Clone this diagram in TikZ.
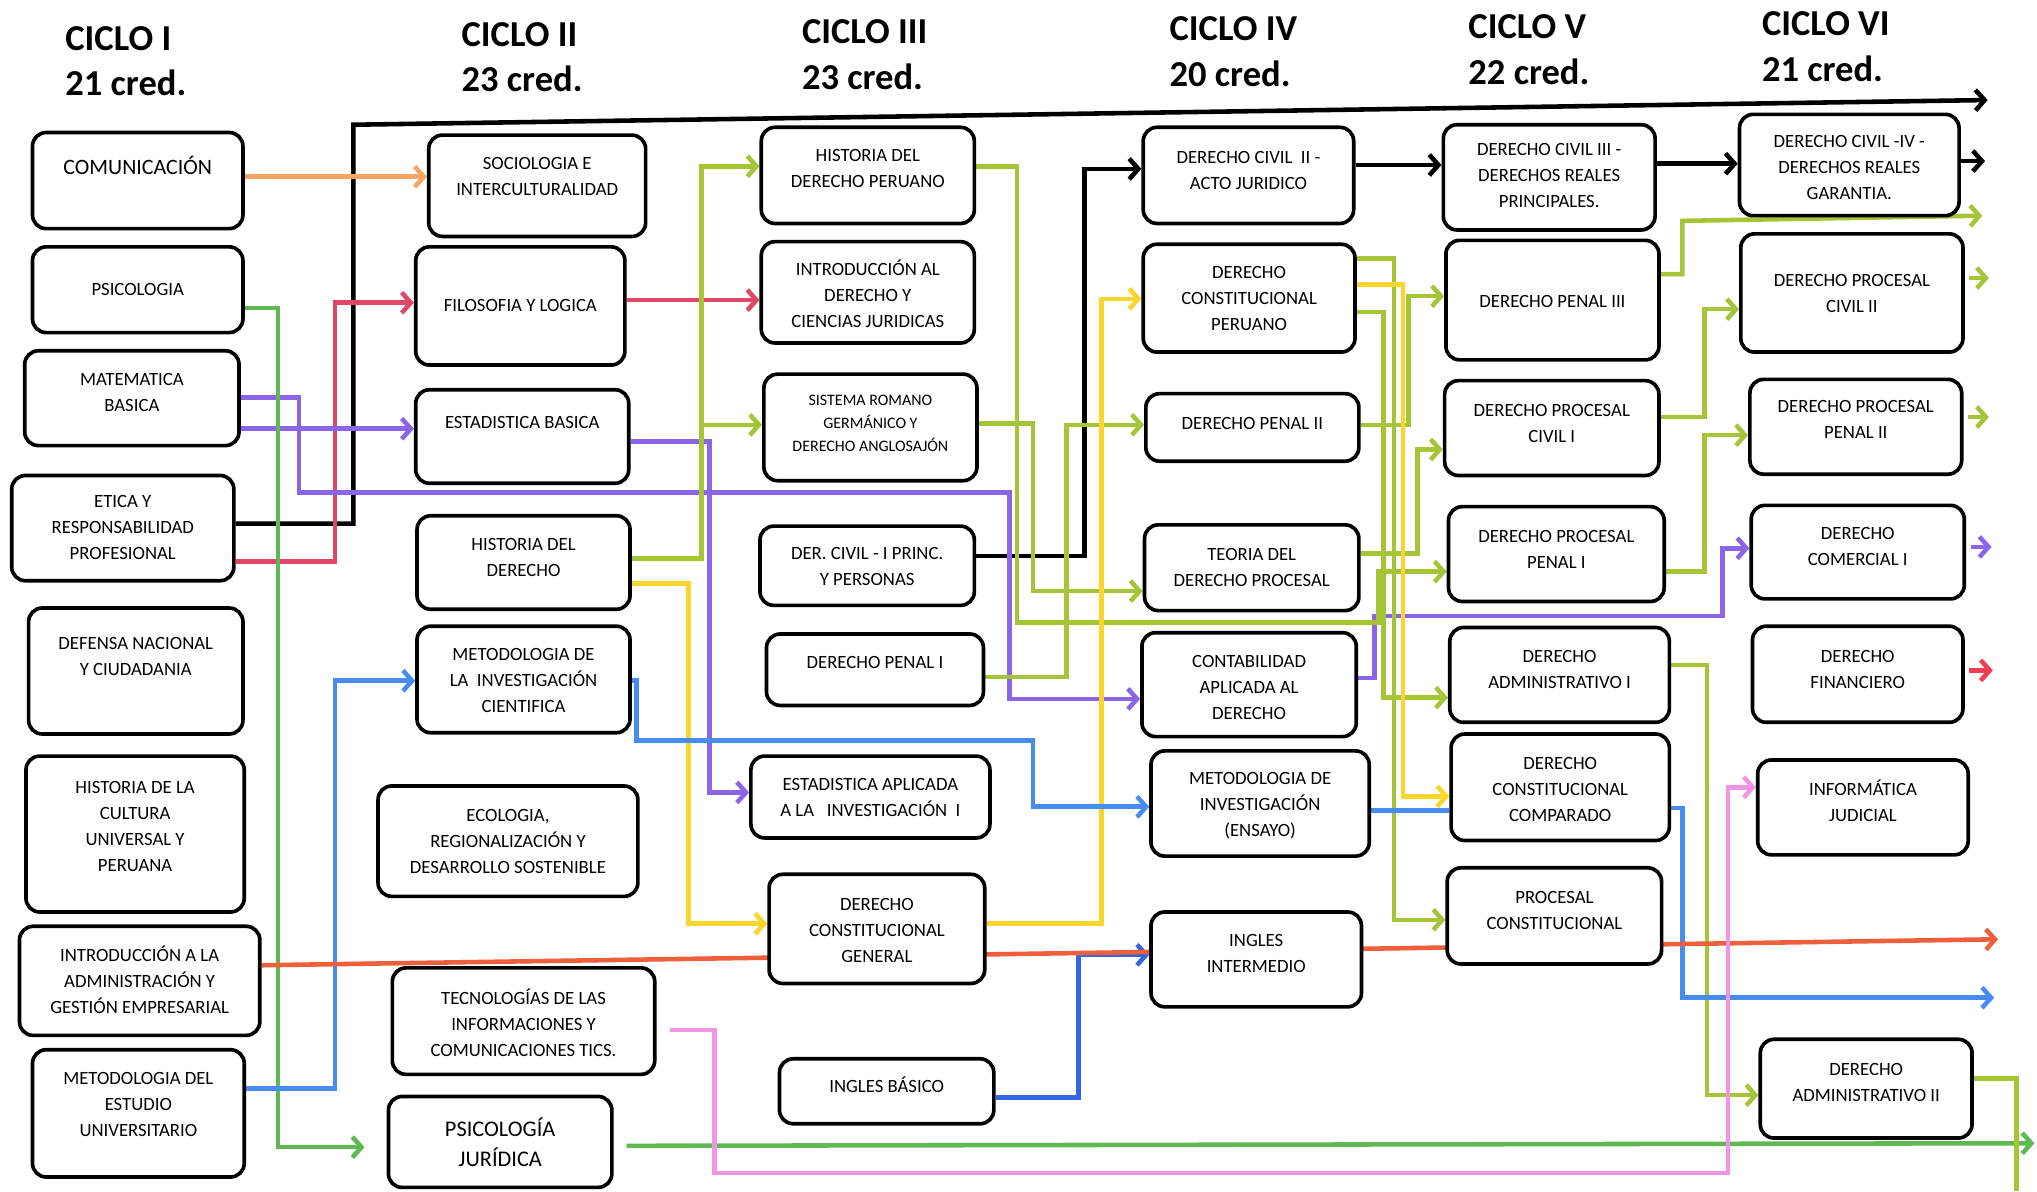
\documentclass[tikz,border=0pt]{standalone}
\usepackage{fontspec}
\setmainfont{Carlito}
\usetikzlibrary{arrows.meta,backgrounds}

\definecolor{lnorange}{RGB}{246,166,98}
\definecolor{lncrimson}{RGB}{222,72,102}
\definecolor{lnpurple}{RGB}{140,100,232}
\definecolor{lngreen}{RGB}{96,184,82}
\definecolor{lnolive}{RGB}{166,196,56}
\definecolor{lnyellow}{RGB}{250,214,44}
\definecolor{lnblue}{RGB}{72,140,242}
\definecolor{lndblue}{RGB}{52,102,228}
\definecolor{lnpink}{RGB}{240,150,228}
\definecolor{lnred}{RGB}{238,96,60}
\definecolor{lnfin}{RGB}{238,62,84}

% box from (x1,y1) to (x2,y2), text centred at height #7
\newcommand{\course}[8][]{%
  \node[course, minimum width={(#5-#3)*0.2mm}, minimum height={(#6-#4)*0.2mm}] (#2) at ({(#3+#5)/2},{(#4+#6)/2}) {};
  \node[coursetext, #1] (#2-t) at ({(#3+#5)/2},#7) {#8};}

\begin{document}
\begin{tikzpicture}[x=0.2mm, y=-0.2mm,
    course/.style={draw, line width=1.6pt, rounded corners=6pt, fill=white, inner sep=0pt},
    coursetext/.style={align=center, inner sep=0pt, font=\fontsize{8.2}{11.4}\selectfont},
    ciclo/.style={anchor=west, align=left, inner sep=0pt, font=\bfseries\fontsize{16}{20}\selectfont},
    wire/.style={line width=2pt},
    arrowed/.style={-{Straight Barb[length=4pt,width=9pt]}}]
  %%%%% START %%%%%
  \useasboundingbox (0,0) rectangle (1568,917);

  \node[ciclo] (c1) at (50,47) {CICLO I\\21 cred.};
  \node[ciclo] (c2) at (355,44) {CICLO II\\23 cred.};
  \node[ciclo] (c3) at (617,42) {CICLO III\\23 cred.};
  \node[ciclo] (c4) at (900,40) {CICLO IV\\20 cred.};
  \node[ciclo] (c5) at (1130,38) {CICLO V\\22 cred.};
  \node[ciclo] (c6) at (1356,36) {CICLO VI\\21 cred.};

  % ciclo I
  \course[font=\fontsize{9.6}{12}\selectfont]{comu}{25}{102}{187}{176}{127}{COMUNICACIÓN}
  \course{psico}{25}{190}{187}{256}{223}{PSICOLOGIA}
  \course{mate}{19}{270}{184}{343}{302}{MATEMATICA\\BASICA}
  \course{etica}{9}{366}{180}{447}{406}{ETICA Y\\RESPONSABILIDAD\\PROFESIONAL}
  \course{defensa}{22}{468}{187}{565}{505}{DEFENSA NACIONAL\\Y CIUDADANIA}
  \course{histcult}{20}{582}{188}{702}{636}{HISTORIA DE LA\\CULTURA\\UNIVERSAL Y\\PERUANA}
  \course{introadm}{15}{713}{200}{797}{754}{INTRODUCCIÓN A LA\\ADMINISTRACIÓN Y\\GESTIÓN EMPRESARIAL}
  \course{metest}{25}{808}{188}{906}{850}{METODOLOGIA DEL\\ESTUDIO\\UNIVERSITARIO}

  % ciclo II
  \course{socio}{330}{104}{497}{182}{136}{SOCIOLOGIA E\\INTERCULTURALIDAD}
  \course{filo}{320}{190}{481}{281}{235}{FILOSOFIA Y LOGICA}
  \course{estb}{320}{300}{484}{372}{325}{ESTADISTICA BASICA}
  \course{histder}{321}{397}{485}{469}{429}{HISTORIA DEL\\DERECHO}
  \course{metinv}{321}{482}{485}{564}{524}{METODOLOGIA DE\\LA~~INVESTIGACIÓN\\CIENTIFICA}
  \course{ecol}{291}{605}{491}{690}{648}{ECOLOGIA,\\REGIONALIZACIÓN Y\\DESARROLLO SOSTENIBLE}
  \course{tics}{302}{745}{504}{827}{787}{TECNOLOGÍAS DE LAS\\INFORMACIONES Y\\COMUNICACIONES TICS.}
  \course[font=\fontsize{9.8}{13}\selectfont]{psicoj}{299}{844}{471}{914}{879}{PSICOLOGÍA\\JURÍDICA}

  % ciclo III
  \course{histper}{586}{98}{750}{172}{130}{HISTORIA DEL\\DERECHO PERUANO}
  \course{introder}{586}{186}{750}{264}{226}{INTRODUCCIÓN AL\\DERECHO Y\\CIENCIAS JURIDICAS}
  \course[font=\fontsize{7}{10}\selectfont]{romano}{588}{288}{752}{370}{326}{SISTEMA ROMANO\\GERMÁNICO Y\\DERECHO ANGLOSAJÓN}
  \course{civil1}{585}{405}{750}{466}{436}{DER. CIVIL - I PRINC.\\Y PERSONAS}
  \course{penal1}{590}{488}{757}{543}{510}{DERECHO PENAL I}
  \course{estap}{578}{582}{762}{645}{614}{ESTADISTICA APLICADA\\A LA~~~INVESTIGACIÓN~~I}
  \course{constgen}{592}{673}{758}{757}{716}{DERECHO\\CONSTITUCIONAL\\GENERAL}
  \course{ingb}{600}{815}{765}{865}{835}{INGLES BÁSICO}

  % ciclo IV
  \course{civil2}{880}{98}{1042}{172}{131}{DERECHO CIVIL~~II -\\ACTO JURIDICO}
  \course{constper}{880}{188}{1043}{271}{230}{DERECHO\\CONSTITUCIONAL\\PERUANO}
  \course{penal2}{882}{303}{1046}{355}{326}{DERECHO PENAL II}
  \course{teoria}{881}{404}{1046}{470}{437}{TEORIA DEL\\DERECHO PROCESAL}
  \course{conta}{879}{487}{1044}{567}{529}{CONTABILIDAD\\APLICADA AL\\DERECHO}
  \course{ensayo}{886}{578}{1054}{659}{620}{METODOLOGIA DE\\INVESTIGACIÓN\\(ENSAYO)}
  \course{ingi}{886}{702}{1048}{775}{734}{INGLES\\INTERMEDIO}

  % ciclo V
  \course{civil3}{1111}{96}{1274}{177}{135}{DERECHO CIVIL III -\\DERECHOS REALES\\PRINCIPALES.}
  \course{penal3}{1113}{185}{1277}{277}{232}{DERECHO PENAL III}
  \course{pcivil1}{1112}{293}{1277}{366}{326}{DERECHO PROCESAL\\CIVIL I}
  \course{ppenal1}{1115}{390}{1281}{463}{423}{DERECHO PROCESAL\\PENAL I}
  \course{admin1}{1116}{483}{1285}{556}{515}{DERECHO\\ADMINISTRATIVO I}
  \course{constcomp}{1117}{565}{1285}{647}{608}{DERECHO\\CONSTITUCIONAL\\COMPARADO}
  \course{pconst}{1114}{668}{1279}{742}{701}{PROCESAL\\CONSTITUCIONAL}

  % ciclo VI
  \course{civil4}{1339}{88}{1508}{166}{129}{DERECHO CIVIL -IV -\\DERECHOS REALES\\GARANTIA.}
  \course{pcivil2}{1340}{180}{1511}{271}{226}{DERECHO PROCESAL\\CIVIL II}
  \course{ppenal2}{1347}{292}{1510}{365}{323}{DERECHO PROCESAL\\PENAL II}
  \course{comer}{1348}{389}{1512}{461}{421}{DERECHO\\COMERCIAL I}
  \course{finan}{1349}{482}{1511}{556}{515}{DERECHO\\FINANCIERO}
  \course{inform}{1353}{585}{1515}{658}{616}{INFORMÁTICA\\JUDICIAL}
  \course{admin2}{1355}{800}{1518}{876}{833}{DERECHO\\ADMINISTRATIVO II}

  % free ends
  \coordinate (topend) at (1530,77);
  \coordinate (c4end) at (1528,124);
  \coordinate (p3end) at (1526,166);
  \coordinate (pc2end) at (1531,214);
  \coordinate (pp2end) at (1531,321);
  \coordinate (comend) at (1533,421);
  \coordinate (finend) at (1534,516);
  \coordinate (redend) at (1538,723);
  \coordinate (blueend) at (1535,768);
  \coordinate (greenend) at (1566,880);
  \coordinate (adm2end) at (1552,917);

  \begin{scope}[on background layer]
    % black
    \draw[wire, arrowed] (etica.east |- 0,403) -| (272,96) -- (topend);
    \draw[wire, arrowed] (civil1.east |- 0,428) -| (835,130) -- (civil2.west |- 0,130);
    \draw[wire, arrowed] (civil2.east |- 0,127) -- (civil3.west |- 0,127);
    \draw[wire, arrowed] (civil3.east |- 0,126) -- (civil4.west |- 0,126);
    \draw[wire, arrowed] (civil4.east |- 0,124) -- (c4end);

    % orange, crimson
    \draw[wire, arrowed, lnorange] (comu.east |- 0,136) -- (socio.west |- 0,136);
    \draw[wire, arrowed, lncrimson] (etica.east |- 0,432) -| (258,233) -- (filo.west |- 0,233);
    \draw[wire, arrowed, lncrimson] (filo.east |- 0,231) -- (introder.west |- 0,231);

    % purple
    \draw[wire, arrowed, lnpurple] (mate.east |- 0,306) -| (230,379) -| (777,538) -- (conta.west |- 0,538);
    \draw[wire, arrowed, lnpurple] (mate.east |- 0,330) -- (estb.west |- 0,330);
    \draw[wire, arrowed, lnpurple] (estb.east |- 0,340) -| (546,610) -- (estap.west |- 0,610);
    \draw[wire, arrowed, lnpurple] (conta.east |- 0,522) -| (1058,474) -| (1326,422) -- (comer.west |- 0,422);
    \draw[wire, arrowed, lnpurple] ([xshift=2pt]comer.east |- 0,421) -- (comend);

    % green
    \draw[wire, arrowed, lngreen, shorten >=3.4mm] (psico.east |- 0,237) -| (214,883) -- (psicoj.west |- 0,883);
    \draw[wire, arrowed, lngreen] ([xshift=2mm]psicoj.east |- 0,882) -- (greenend);

    % olive
    \draw[wire, arrowed, lnolive] (histder.east |- 0,430) -| (540,128) -- (histper.west |- 0,128);
    \draw[wire, arrowed, lnolive] (540,430) |- (romano.west |- 0,327);
    \draw[wire, arrowed, lnolive] (histper.east |- 0,128) -| (783,479) -| (1061,440) -- (ppenal1.west |- 0,440);
    \draw[wire, arrowed, lnolive] (romano.east |- 0,326) -| (795,455) -- (teoria.west |- 0,455);
    \draw[wire, arrowed, lnolive] (penal1.east |- 0,521) -| (821,327) -- (penal2.west |- 0,327);
    \draw[wire, arrowed, lnolive] (penal2.east |- 0,327) -| (1084,228) -- (penal3.west |- 0,228);
    \draw[wire, arrowed, lnolive] (constper.east |- 0,199) -| (1073,708) -- (pconst.west |- 0,708);
    \draw[wire, arrowed, lnolive] (constper.east |- 0,240) -| (1065,537) -- (admin1.west |- 0,537);
    \draw[wire, arrowed, lnolive] (teoria.east |- 0,426) -| (1091,346) -- (pcivil1.west |- 0,346);
    \draw[wire, arrowed, lnolive] (penal3.east |- 0,211) -| (1295,170) -- (p3end);
    \draw[wire, arrowed, lnolive] (pcivil1.east |- 0,321) -| (1312,238) -- (pcivil2.west |- 0,238);
    \draw[wire, arrowed, lnolive] (ppenal1.east |- 0,440) -| (1312,335) -- (ppenal2.west |- 0,335);
    \draw[wire, arrowed, lnolive] (admin1.east |- 0,512) -| (1314,843) -- (admin2.west |- 0,843);
    \draw[wire, arrowed, lnolive] ([xshift=2pt]pcivil2.east |- 0,214) -- (pc2end);
    \draw[wire, arrowed, lnolive] ([xshift=2pt]ppenal2.east |- 0,321) -- (pp2end);
    \draw[wire, lnolive] (admin2.east |- 0,830) -| (adm2end);

    % yellow
    \draw[wire, arrowed, lnyellow] (histder.east |- 0,449) -| (530,711) -- (constgen.west |- 0,711);
    \draw[wire, arrowed, lnyellow] (constgen.east |- 0,711) -| (848,230) -- (constper.west |- 0,230);
    \draw[wire, arrowed, lnyellow] (constper.east |- 0,219) -| (1080,613) -- (constcomp.west |- 0,613);

    % blue
    \draw[wire, arrowed, lnblue] (metest.east |- 0,838) -| (258,524) -- (metinv.west |- 0,524);
    \draw[wire, arrowed, lnblue] (metinv.east |- 0,524) -| (490,570) -| (795,621) -- (ensayo.west |- 0,621);
    \draw[wire, lnblue] (ensayo.east |- 0,624) -- (constcomp.west |- 0,624);
    \draw[wire, arrowed, lnblue] (constcomp.east |- 0,622) -| (1295,768) -- (blueend);
    \draw[wire, arrowed, lndblue] (ingb.east |- 0,845) -| (830,735) -- (ingi.west |- 0,735);

    % red, pink
    \draw[wire, arrowed, lnred] (introadm.east |- 0,743) -- (redend);
    \draw[wire, arrowed, lnpink] ([xshift=2mm]tics.east |- 0,793) -| (550,903) -| (1330,606) -- (inform.west |- 0,606);
    \draw[wire, arrowed, lnfin] ([xshift=2pt]finan.east |- 0,516) -- (finend);
  \end{scope}
  %%%%% END %%%%%
\end{tikzpicture}
\end{document}
